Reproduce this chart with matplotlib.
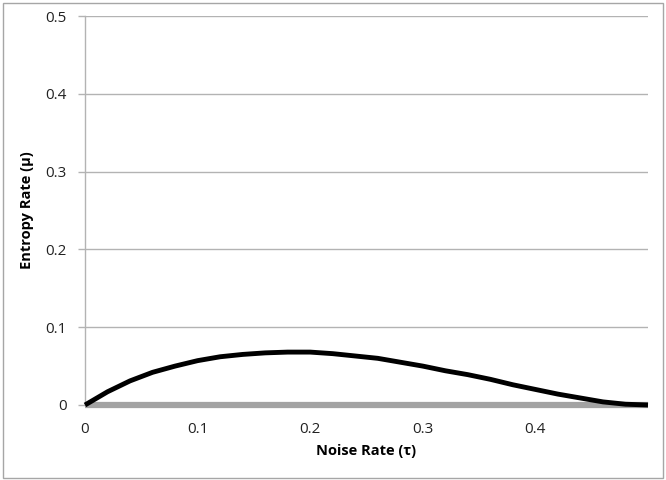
import matplotlib
matplotlib.use("Agg")
import matplotlib.pyplot as plt
from matplotlib.patches import Rectangle

tau = [0.00, 0.02, 0.04, 0.06, 0.08, 0.10, 0.12, 0.14, 0.16, 0.18, 0.20,
       0.22, 0.24, 0.26, 0.28, 0.30, 0.32, 0.34, 0.36, 0.38, 0.40, 0.42,
       0.44, 0.46, 0.48, 0.50]
mu = [0.000, 0.017, 0.031, 0.042, 0.050, 0.057, 0.062, 0.065, 0.067, 0.068, 0.068,
      0.066, 0.063, 0.060, 0.055, 0.050, 0.044, 0.039, 0.033, 0.026, 0.020, 0.014,
      0.009, 0.004, 0.001, 0.000]
zero_series = [0.0 for _ in tau]

x_ticks = [0, 0.1, 0.2, 0.3, 0.4]
x_tick_labels = ["0", "0.1", "0.2", "0.3", "0.4"]
y_ticks = [0, 0.1, 0.2, 0.3, 0.4, 0.5]
y_tick_labels = ["0", "0.1", "0.2", "0.3", "0.4", "0.5"]

plt.rcParams['font.family'] = ['Open Sans', 'DejaVu Sans']

fig = plt.figure(figsize=(6.66, 4.8), dpi=100)
ax = fig.add_axes([85/666, 75/480, (648-85)/666, (405-16)/480])

fig.patches.append(Rectangle((3/666, 2/480), 660/666, 475/480, transform=fig.transFigure,
                             fill=False, edgecolor='#a6a6a6', linewidth=1.0))

for y in y_ticks[1:]:
    ax.axhline(y, color='#b3b3b3', linewidth=1.0, zorder=1)

ax.plot(tau, zero_series, color='#a3a3a3', linewidth=4.5, solid_capstyle='butt',
        zorder=2, clip_on=False)
ax.plot(tau, mu, color='#000000', linewidth=3.5, solid_capstyle='butt',
        solid_joinstyle='round', zorder=3, clip_on=False)

ax.set_xlim(0, 0.5)
ax.set_ylim(0, 0.5)
ax.set_xticks(x_ticks)
ax.set_xticklabels(x_tick_labels)
ax.set_yticks(y_ticks)
ax.set_yticklabels(y_tick_labels)

for s in ['top', 'right', 'bottom']:
    ax.spines[s].set_visible(False)
ax.spines['left'].set_color('#b3b3b3')
ax.spines['left'].set_linewidth(1.0)
ax.spines['left'].set_zorder(1.5)

ax.tick_params(axis='y', length=5, width=1.0, color='#b3b3b3', pad=8, labelsize=11, labelcolor='#222222')
ax.tick_params(axis='x', length=0, pad=12, labelsize=11, labelcolor='#222222')

ax.set_xlabel("Noise Rate (τ)", fontsize=10.5, fontweight='bold', labelpad=5)
ax.set_ylabel("Entropy Rate (μ)", fontsize=10.5, fontweight='bold', labelpad=8)

fig.savefig("out.png", dpi=100)
